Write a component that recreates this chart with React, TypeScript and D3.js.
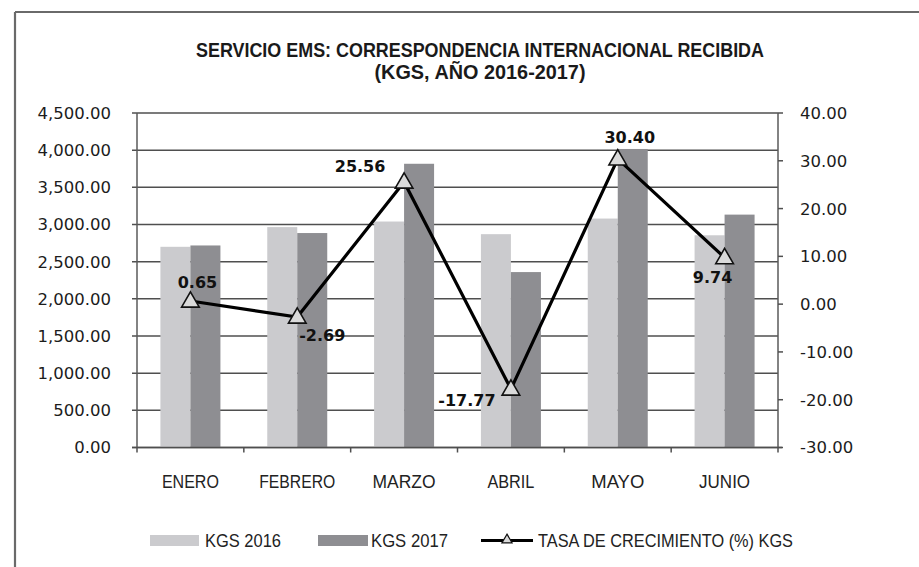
import React from "react";
import * as d3 from "d3";

const categories = ["ENERO", "FEBRERO", "MARZO", "ABRIL", "MAYO", "JUNIO"];
const kgs2016 = [2700, 2965, 3040, 2870, 3080, 2855];
const kgs2017 = [2718, 2885, 3817, 2360, 4016, 3133];
const growth = [0.65, -2.69, 25.56, -17.77, 30.4, 9.74];
const leftTicks = [0, 500, 1000, 1500, 2000, 2500, 3000, 3500, 4000, 4500];
const rightTicks = [-30, -20, -10, 0, 10, 20, 30, 40];
const seriesNames = ["KGS 2016", "KGS 2017", "TASA DE CRECIMIENTO (%) KGS"];
const titleLines = ["SERVICIO EMS: CORRESPONDENCIA INTERNACIONAL RECIBIDA", "(KGS, AÑO 2016-2017)"];

// layout (not data)
const W = 919, H = 567;
const PL = 137, PR = 778, PT = 113, PB = 447.5;
const labelOffsets: [number, number][] = [[7, -19], [25, 18], [-44, -16], [-44, 11], [12, -22], [-12, 20]];
const catWidths = [57, 76, 63, 47, 53, 51];
const C_LIGHT = "#cbcbce";
const C_DARK = "#8e8e92";
const NARROW = "'Liberation Sans Narrow', 'Arial Narrow', 'Liberation Sans', sans-serif";
const NUMF = "'DejaVu Sans', Verdana, sans-serif";

const locale = d3.formatLocale({ decimal: ".", thousands: ",", grouping: [3], currency: ["", ""], minus: "-" });

export default function App() {
  const x = d3.scaleBand<string>().domain(categories).range([PL, PR]).padding(0);
  const bw = x.bandwidth();
  const x1 = d3.scaleBand<string>().domain(["a", "b"]).range([bw / 2 - 30, bw / 2 + 30]).padding(0);
  const yL = d3.scaleLinear().domain([0, 4500]).range([PB, PT]);
  const yR = d3.scaleLinear().domain([-30, 40]).range([PB, PT]);
  const fmtL = locale.format(",.2f");
  const fmtR = locale.format(".2f");
  const cx = (c: string) => (x(c) as number) + bw / 2;
  const line = d3.line<number>().x((_, i) => cx(categories[i])).y((d) => yR(d));
  const tri = d3.symbol().type(d3.symbolTriangle).size(135);

  const boundaries = [...categories.map((c) => x(c) as number), PR];

  return (
    <svg width={W} height={H} style={{ position: "absolute", left: 0, top: 0, background: "#fff" }}>
      <rect x={0} y={0} width={W} height={H} fill="#fff" />
      <line x1={15} y1={12} x2={W} y2={12} stroke="#6a6a6a" strokeWidth={2.2} />
      <line x1={15} y1={12} x2={15} y2={H} stroke="#6a6a6a" strokeWidth={2.2} />

      {titleLines.map((t, i) => (
        <text key={t} x={480} y={57 + i * 21.5} textAnchor="middle" fontFamily={NARROW} fontWeight="bold"
          fontSize={19.5} fill="#1a1a1a" textLength={i === 0 ? 568 : 211} lengthAdjust="spacingAndGlyphs">{t}</text>
      ))}

      {/* gridlines */}
      {leftTicks.map((t) => (
        <line key={"g" + t} x1={PL - 5} x2={PR} y1={yL(t)} y2={yL(t)} stroke="#4f4f4f" strokeWidth={1.5} />
      ))}

      {/* bars */}
      {categories.map((c, i) => (
        <g key={c} transform={`translate(${x(c)},0)`}>
          <rect x={x1("a")} width={x1.bandwidth()} y={yL(kgs2016[i])} height={PB - yL(kgs2016[i])} fill={C_LIGHT} />
          <rect x={x1("b")} width={x1.bandwidth()} y={yL(kgs2017[i])} height={PB - yL(kgs2017[i])} fill={C_DARK} />
        </g>
      ))}

      {/* axes */}
      <line x1={PL} x2={PL} y1={PT} y2={PB} stroke="#5a5a5a" strokeWidth={1.5} />
      <line x1={PR} x2={PR} y1={PT} y2={PB} stroke="#5a5a5a" strokeWidth={1.5} />
      <line x1={PL - 5} x2={PR + 4} y1={PB} y2={PB} stroke="#4f4f4f" strokeWidth={1.5} />
      {boundaries.map((b, i) => (
        <line key={"ct" + i} x1={b} x2={b} y1={PB} y2={PB + 5} stroke="#4f4f4f" strokeWidth={1.5} />
      ))}
      {rightTicks.map((t) => (
        <line key={"rt" + t} x1={PR} x2={PR + 5} y1={yR(t)} y2={yR(t)} stroke="#4f4f4f" strokeWidth={1.5} />
      ))}

      {leftTicks.map((t) => (
        <text key={"lt" + t} x={111} y={yL(t)} dy="0.36em" textAnchor="end" fontFamily={NUMF} fontSize={16.5} fill="#1c1c1c">{fmtL(t)}</text>
      ))}
      {rightTicks.map((t) => (
        <text key={"rl" + t} x={800} y={yR(t)} dy="0.36em" textAnchor="start" fontFamily={NUMF} fontSize={16.5} fill="#1c1c1c">{fmtR(t)}</text>
      ))}

      {categories.map((c, i) => (
        <text key={"cl" + c} x={cx(c)} y={488} textAnchor="middle" fontFamily={NARROW} fontSize={19} fill="#222"
          textLength={catWidths[i]} lengthAdjust="spacingAndGlyphs">{c}</text>
      ))}

      {/* line series */}
      <path d={line(growth) || ""} fill="none" stroke="#000" strokeWidth={3.2} strokeLinejoin="miter" />
      {growth.map((g, i) => (
        <path key={"m" + i} d={tri() || ""} transform={`translate(${cx(categories[i])},${yR(g) + 1})`}
          fill="#dadada" stroke="#111" strokeWidth={1.6} />
      ))}
      {growth.map((g, i) => (
        <text key={"dl" + i} x={cx(categories[i]) + labelOffsets[i][0]} y={yR(g) + labelOffsets[i][1]} dy="0.36em"
          textAnchor="middle" fontFamily={NUMF} fontWeight="bold" fontSize={16} fill="#111">{fmtR(g)}</text>
      ))}

      {/* legend */}
      <rect x={150} y={535} width={49} height={11} fill={C_LIGHT} />
      <text x={205} y={547} fontFamily={NARROW} fontSize={19} fill="#222" textLength={76} lengthAdjust="spacingAndGlyphs">{seriesNames[0]}</text>
      <rect x={318} y={535} width={50} height={11} fill={C_DARK} />
      <text x={371} y={547} fontFamily={NARROW} fontSize={19} fill="#222" textLength={77} lengthAdjust="spacingAndGlyphs">{seriesNames[1]}</text>
      <line x1={481} x2={533} y1={540.5} y2={540.5} stroke="#000" strokeWidth={3} />
      <path d={d3.symbol().type(d3.symbolTriangle).size(45)() || ""} transform="translate(507,540)" fill="#dadada" stroke="#111" strokeWidth={1.2} />
      <text x={538} y={547} fontFamily={NARROW} fontSize={19} fill="#222" textLength={255} lengthAdjust="spacingAndGlyphs">{seriesNames[2]}</text>
    </svg>
  );
}
